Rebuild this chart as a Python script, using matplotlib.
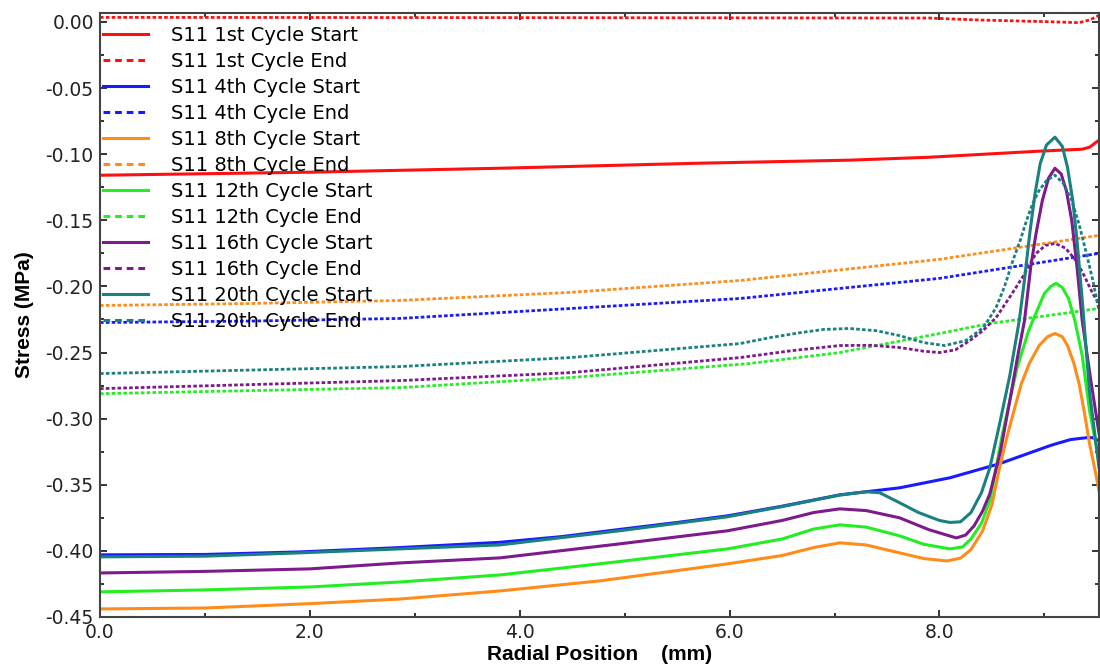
import matplotlib
matplotlib.use("Agg")
import matplotlib.pyplot as plt
from matplotlib.lines import Line2D
from matplotlib.ticker import MultipleLocator, FormatStrFormatter

# radial position (mm) / stress (MPa)
x_c1_start = [0.0, 2.0, 3.81, 5.71, 7.14, 7.9, 8.95, 9.36, 9.43, 9.52]
y_c1_start = [-0.1159, -0.1136, -0.1106, -0.1068, -0.1045, -0.1023, -0.0977, -0.0962, -0.0947, -0.0894]

x_c1_end = [0.0, 4.0, 7.9, 8.38, 9.0, 9.33, 9.43, 9.52]
y_c1_end = [0.0035, 0.0033, 0.003, 0.0015, 0.0003, -0.0005, 0.0015, 0.005]

x_c4_start = [0.0, 1.0, 1.9, 2.86, 3.81, 4.4, 4.95, 5.5, 5.98, 6.5, 7.05, 7.62, 8.1, 8.57, 9.05, 9.11,
              9.25, 9.4, 9.46, 9.52]
y_c4_start = [-0.403, -0.4027, -0.4008, -0.3975, -0.3935, -0.3892, -0.3838, -0.3785, -0.3735, -0.3662,
              -0.3576, -0.3523, -0.3447, -0.3341, -0.3205, -0.319, -0.3158, -0.3144, -0.3144, -0.3167]

x_c4_end = [0.0, 1.43, 2.86, 4.48, 6.1, 8.0, 9.52]
y_c4_end = [-0.2273, -0.2262, -0.2242, -0.2167, -0.2091, -0.1939, -0.175]

x_c8_start = [0.0, 1.0, 2.0, 2.86, 3.81, 4.76, 5.98, 6.5, 6.8, 7.05, 7.3, 7.62, 7.85, 8.07, 8.2, 8.3,
              8.41, 8.5, 8.57, 8.65, 8.78, 8.86, 8.95, 9.03, 9.1, 9.17, 9.22, 9.28, 9.33, 9.38, 9.43,
              9.48, 9.52]
y_c8_start = [-0.4439, -0.4432, -0.4399, -0.4364, -0.4303, -0.4227, -0.4098, -0.4035, -0.3975, -0.3939,
              -0.3955, -0.4015, -0.4058, -0.4076, -0.4055, -0.399, -0.385, -0.365, -0.3379, -0.3114,
              -0.2735, -0.2576, -0.2447, -0.238, -0.2356, -0.238, -0.2447, -0.258, -0.2735, -0.295,
              -0.319, -0.338, -0.3545]

x_c8_end = [0.0, 1.43, 2.86, 4.48, 6.1, 8.0, 9.52]
y_c8_end = [-0.2144, -0.2129, -0.2106, -0.2045, -0.1955, -0.1795, -0.1614]

x_c12_start = [0.0, 1.0, 2.0, 2.86, 3.81, 4.76, 5.98, 6.5, 6.8, 7.05, 7.3, 7.62, 7.85, 8.1, 8.22, 8.3,
               8.4, 8.48, 8.6, 8.74, 8.85, 8.93, 9.0, 9.06, 9.11, 9.17, 9.23, 9.29, 9.36, 9.43, 9.52]
y_c12_start = [-0.431, -0.4295, -0.4273, -0.4235, -0.4182, -0.4098, -0.3985, -0.391, -0.3835, -0.3803,
               -0.382, -0.3886, -0.395, -0.3985, -0.397, -0.391, -0.379, -0.3621, -0.3114, -0.2614,
               -0.2333, -0.2182, -0.2053, -0.2, -0.1977, -0.2008, -0.2091, -0.2258, -0.2523, -0.2939,
               -0.3318]

x_c12_end = [0.0, 2.86, 4.48, 6.19, 7.05, 8.0, 8.48, 9.52]
y_c12_end = [-0.2811, -0.2765, -0.2689, -0.2583, -0.25, -0.2356, -0.228, -0.2167]

x_c16_start = [0.0, 1.0, 2.0, 2.86, 3.81, 4.95, 5.98, 6.5, 6.8, 7.05, 7.3, 7.62, 7.9, 8.16, 8.25, 8.33,
               8.41, 8.48, 8.58, 8.67, 8.74, 8.81, 8.87, 8.92, 8.98, 9.04, 9.1, 9.16, 9.21, 9.26, 9.31,
               9.36, 9.44, 9.52]
y_c16_start = [-0.4167, -0.4155, -0.4136, -0.4091, -0.4053, -0.3947, -0.3848, -0.377, -0.371, -0.3682,
               -0.3695, -0.375, -0.384, -0.3902, -0.388, -0.381, -0.37, -0.3568, -0.325, -0.2864,
               -0.255, -0.2258, -0.185, -0.16, -0.135, -0.118, -0.1106, -0.115, -0.128, -0.15, -0.185,
               -0.2258, -0.27, -0.311]

x_c16_end = [0.0, 2.86, 4.48, 6.1, 6.6, 7.05, 7.35, 7.62, 7.85, 8.0, 8.15, 8.29, 8.42, 8.54, 8.67,
             8.79, 8.92, 9.01, 9.1, 9.2, 9.3, 9.38, 9.46, 9.52]
y_c16_end = [-0.2773, -0.2712, -0.2652, -0.2538, -0.2485, -0.2447, -0.2445, -0.2462, -0.249, -0.25,
             -0.248, -0.2409, -0.233, -0.2235, -0.208, -0.1932, -0.175, -0.169, -0.1674, -0.171,
             -0.1803, -0.192, -0.2053, -0.2129]

x_c20_start = [0.0, 1.0, 1.9, 3.81, 4.95, 5.98, 6.5, 7.05, 7.3, 7.43, 7.62, 7.8, 8.0, 8.1, 8.2, 8.3,
               8.4, 8.48, 8.57, 8.67, 8.76, 8.81, 8.86, 8.91, 8.96, 9.02, 9.1, 9.17, 9.22, 9.27, 9.31,
               9.36, 9.43, 9.52]
y_c20_start = [-0.4045, -0.404, -0.4015, -0.3955, -0.3848, -0.3742, -0.3665, -0.3578, -0.3553, -0.356,
               -0.3636, -0.371, -0.377, -0.3785, -0.378, -0.371, -0.356, -0.3371, -0.305, -0.2674,
               -0.2258, -0.195, -0.16, -0.13, -0.107, -0.093, -0.0871, -0.094, -0.11, -0.135, -0.165,
               -0.21, -0.28, -0.3371]

x_c20_end = [0.0, 2.86, 4.48, 6.1, 6.4, 6.67, 6.9, 7.14, 7.4, 7.62, 7.85, 8.05, 8.25, 8.42, 8.54, 8.62,
             8.7, 8.77, 8.83, 8.89, 8.95, 9.02, 9.1, 9.18, 9.26, 9.33, 9.4, 9.46, 9.5, 9.52]
y_c20_end = [-0.2659, -0.2606, -0.2538, -0.2432, -0.2385, -0.235, -0.2325, -0.2318, -0.2335, -0.2372,
             -0.2425, -0.2447, -0.241, -0.231, -0.2159, -0.2, -0.1803, -0.165, -0.15, -0.137, -0.1273,
             -0.12, -0.1159, -0.122, -0.1348, -0.153, -0.175, -0.195, -0.2106, -0.2182]

labels = ["S11 1st Cycle Start", "S11 1st Cycle End",
          "S11 4th Cycle Start", "S11 4th Cycle End",
          "S11 8th Cycle Start", "S11 8th Cycle End",
          "S11 12th Cycle Start", "S11 12th Cycle End",
          "S11 16th Cycle Start", "S11 16th Cycle End",
          "S11 20th Cycle Start", "S11 20th Cycle End"]
colors = ["#ff1010", "#1a1aff", "#ff8c1a", "#22ee22", "#7d1a8c", "#1a8080"]

series = [(x_c1_start, y_c1_start), (x_c1_end, y_c1_end),
          (x_c4_start, y_c4_start), (x_c4_end, y_c4_end),
          (x_c8_start, y_c8_start), (x_c8_end, y_c8_end),
          (x_c12_start, y_c12_start), (x_c12_end, y_c12_end),
          (x_c16_start, y_c16_start), (x_c16_end, y_c16_end),
          (x_c20_start, y_c20_start), (x_c20_end, y_c20_end)]

fig = plt.figure(figsize=(11, 6.65), dpi=100)
ax = fig.add_axes([100/1100, 48/665, 999/1100, 604/665])

handles = []
for i, (xs, ys) in enumerate(series):
    c = colors[i // 2]
    if i % 2 == 0:
        ax.plot(xs, ys, color=c, lw=2.2, solid_joinstyle="round")
        handles.append(Line2D([], [], color=c, lw=2.2))
    else:
        ax.plot(xs, ys, color=c, lw=2.0, linestyle=(0, (1.3, 0.8)))
        handles.append(Line2D([], [], color=c, lw=2.2, linestyle=(0, (2.2, 1.6))))

ax.set_xlim(0, 9.52)
ax.set_ylim(-0.45, 0.0068)
ax.xaxis.set_major_locator(MultipleLocator(2.0))
ax.xaxis.set_minor_locator(MultipleLocator(1.0))
ax.yaxis.set_major_locator(MultipleLocator(0.05))
ax.yaxis.set_minor_locator(MultipleLocator(0.025))
ax.xaxis.set_major_formatter(FormatStrFormatter("%.1f"))
ax.yaxis.set_major_formatter(FormatStrFormatter("%.2f"))
ax.tick_params(which="both", direction="in", top=True, right=True,
               colors="#333333", labelcolor="#222222", width=1.4)
ax.tick_params(which="major", length=5, labelsize=13.5, pad=4.5)
ax.tick_params(which="minor", length=3)
for s in ax.spines.values():
    s.set_color("#444444")
    s.set_linewidth(1.5)

ax.set_xlabel("Radial Position    (mm)", fontsize=15, fontweight="bold",
              family="Liberation Sans", labelpad=2)
ax.set_ylabel("Stress (MPa)", fontsize=15, fontweight="bold",
              family="Liberation Sans", labelpad=8)

ax.legend(handles, labels, loc="upper left", bbox_to_anchor=(0.003, 0.979),
          frameon=False, fontsize=14, handlelength=2.3, handletextpad=1.2,
          labelspacing=0.36, borderpad=0, borderaxespad=0)

fig.savefig("out.png", dpi=100)
